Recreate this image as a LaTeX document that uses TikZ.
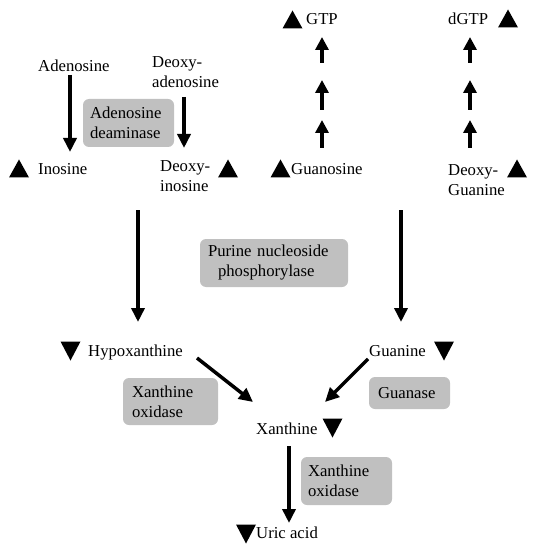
\documentclass[tikz,border=0pt]{standalone}
\usepackage{fontspec}
\setmainfont{Liberation Serif}
\usetikzlibrary{arrows.meta}
\definecolor{boxgray}{RGB}{192,192,192}
\newcommand\tup[2]{\fill ({#1-10},{#2+9}) -- ({#1},{#2-9}) -- ({#1+10},{#2+9}) -- cycle;}
\newcommand\tdown[2]{\fill ({#1-10},{#2-9.5}) -- ({#1},{#2+9.5}) -- ({#1+10},{#2-9.5}) -- cycle;}
\begin{document}
\begin{tikzpicture}[x=1pt,y=-1pt,
  lbl/.style={inner sep=0pt, font=\fontsize{16.7}{20.5}\selectfont, align=left},
  enz/.style={fill=boxgray, rounded corners=6pt, inner ysep=0pt, inner xsep=7pt,
    font=\fontsize{16.7}{20}\selectfont, align=left},
  arr/.style={line width=3.5pt, -{Triangle[width=13pt,length=14pt]}},
  sarr/.style={line width=3.5pt, -{Triangle[width=13pt,length=13pt]}}]
\useasboundingbox (0,0) rectangle (536,553);

% labels
\node[lbl, anchor=base west] (adeno) at (38,72) {Adenosine};
\node[lbl, anchor=north west] (dadeno) at (152,56) {Deoxy-\\adenosine};
\node[lbl, anchor=base west] (ino) at (38,175) {Inosine};
\node[lbl, anchor=north west] (dino) at (160,160) {Deoxy-\\inosine};
\node[lbl, anchor=base west] (guo) at (291,175) {Guanosine};
\node[lbl, anchor=base west] (gtp) at (306,25) {GTP};
\node[lbl, anchor=base west] (dgtp) at (448,25) {dGTP};
\node[lbl, anchor=north west] (dguo) at (448,164) {Deoxy-\\Guanine};
\node[lbl, anchor=base west] (hypo) at (88,356) {Hypoxanthine};
\node[lbl, anchor=base west] (gua) at (369,356) {Guanine};
\node[lbl, anchor=base west] (xan) at (256,434) {Xanthine};
\node[lbl, anchor=base west] (uric) at (256,538) {Uric acid};

% enzyme boxes
\node[enz, text width=77pt, minimum height=48pt] (ada) at (128.5,123) {Adenosine\\deaminase};
\node[enz, inner xsep=8pt, text width=132pt, minimum height=48pt] (pnp) at (274,263) {Purine nucleoside\\\hspace*{10pt}phosphorylase};
\node[enz, inner xsep=9pt, text width=77pt, minimum height=47pt] (xo1) at (170.5,401.5) {Xanthine\\oxidase};
\node[enz, inner xsep=9pt, text width=63pt, minimum height=32pt] (guase) at (409.5,393) {Guanase};
\node[enz, text width=77pt, minimum height=48pt] (xo2) at (346.5,481) {Xanthine\\oxidase};

% triangles
\tup{19}{168.5}
\tup{228}{168.5}
\tup{280.5}{168.5}
\tup{292.5}{19.5}
\tup{508}{18.5}
\tup{517}{168.5}
\tdown{70.5}{351}
\tdown{444}{351}
\tdown{332.5}{428}
\tdown{246}{534}

% arrow end points
\coordinate (a1s) at (70,75);   \coordinate (a1e) at (70,152);
\coordinate (a2s) at (184,97);  \coordinate (a2e) at (184,148);
\coordinate (g1s) at (322,63);  \coordinate (g1e) at (322,37);
\coordinate (g2s) at (322,110); \coordinate (g2e) at (322,80);
\coordinate (g3s) at (322,148); \coordinate (g3e) at (322,120);
\coordinate (d1s) at (470,63);  \coordinate (d1e) at (470,37);
\coordinate (d2s) at (470,110); \coordinate (d2e) at (470,80);
\coordinate (d3s) at (470,148); \coordinate (d3e) at (470,120);
\coordinate (bls) at (138,210); \coordinate (ble) at (138,322);
\coordinate (brs) at (401,210); \coordinate (bre) at (401,322);
\coordinate (hxs) at (197,358); \coordinate (hxe) at (253,402);
\coordinate (gxs) at (368,359); \coordinate (gxe) at (325,402);
\coordinate (xus) at (289,446); \coordinate (xue) at (289,523);

\draw[arr] (a1s) -- (a1e);
\draw[arr] (a2s) -- (a2e);
\draw[sarr] (g1s) -- (g1e);
\draw[sarr] (g2s) -- (g2e);
\draw[sarr] (g3s) -- (g3e);
\draw[sarr] (d1s) -- (d1e);
\draw[sarr] (d2s) -- (d2e);
\draw[sarr] (d3s) -- (d3e);
\draw[arr] (bls) -- (ble);
\draw[arr] (brs) -- (bre);
\draw[arr] (hxs) -- (hxe);
\draw[arr] (gxs) -- (gxe);
\draw[arr] (xus) -- (xue);
\end{tikzpicture}
\end{document}
